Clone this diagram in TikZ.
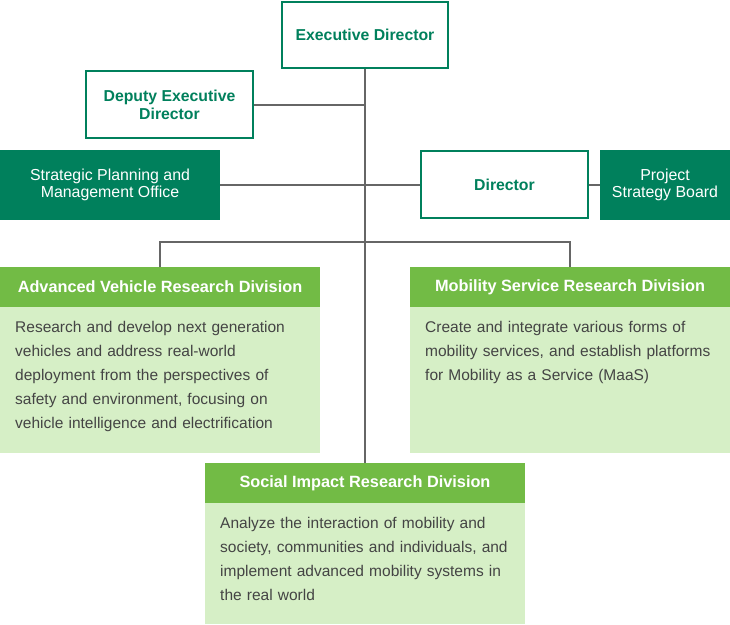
\documentclass[tikz,border=0pt]{standalone}
\usepackage{fontspec}
\setmainfont{Liberation Sans}
\definecolor{dkgreen}{HTML}{00805C}
\definecolor{hdgreen}{HTML}{72BB45}
\definecolor{bdgreen}{HTML}{D6EFC6}
\definecolor{linegray}{HTML}{666666}
\definecolor{txtgray}{HTML}{444444}
\begin{document}
\begin{tikzpicture}[x=1pt,y=-1pt,
  outlinebox/.style={draw=dkgreen,line width=2pt,fill=white,text=dkgreen,inner sep=0pt,align=center,font=\fontsize{15.8}{18}\selectfont\bfseries},
  filledbox/.style={fill=dkgreen,text=white,inner sep=0pt,align=center,font=\fontsize{15.9}{17}\selectfont},
  headbox/.style={fill=hdgreen,text=white,inner sep=0pt,minimum width=320pt,minimum height=40pt,font=\fontsize{16.3}{18}\selectfont\bfseries},
  bodybox/.style={fill=bdgreen,inner sep=0pt,minimum width=320pt,anchor=north west},
  bodytext/.style={text=txtgray,inner sep=0pt,anchor=north west,text width=305pt,align=left,font=\fontsize{15.5}{24}\selectfont},
  conn/.style={draw=linegray,line width=2pt}]
\useasboundingbox (0,0) rectangle (730,624);
% boxes
\node[outlinebox,minimum width=166pt,minimum height=66pt] (exec) at (365,35) {Executive Director};
\node[outlinebox,minimum width=167pt,minimum height=67pt] (dep) at (169.5,104.5) {Deputy Executive\\Director};
\node[filledbox,minimum width=220pt,minimum height=70pt] (spm) at (110,185) {Strategic Planning and\\Management Office};
\node[outlinebox,minimum width=167pt,minimum height=67pt] (dir) at (504.5,184.5) {Director};
\node[filledbox,minimum width=130pt,minimum height=70pt] (psb) at (665,185) {Project\\Strategy Board};
% divisions
\node[headbox] (avh) at (160,287) {Advanced Vehicle Research Division};
\node[bodybox,minimum height=146pt] (avb) at (0,307) {};
\node[bodytext] (avt) at (15,321) {Research and develop next generation\\vehicles and address real-world\\deployment from the perspectives of\\safety and environment, focusing on\\vehicle intelligence and electrification};
\node[headbox] (msh) at (570,287) {Mobility Service Research Division};
\node[bodybox,minimum height=146pt] (msb) at (410,307) {};
\node[bodytext] (mst) at (425,321) {Create and integrate various forms of\\mobility services, and establish platforms\\for Mobility as a Service (MaaS)};
% connectors
\draw[conn] (exec.south) -- (365,463);
\node[headbox] (soh) at (365,483) {Social Impact Research Division};
\node[bodybox,minimum height=121pt] (sob) at (205,503) {};
\node[bodytext] (sot) at (220,517) {Analyze the interaction of mobility and\\society, communities and individuals, and\\implement advanced mobility systems in\\the real world};
\draw[conn] (dep.east) -- (dep.east -| exec.south);
\draw[conn] (spm.east) -- (spm.east -| dir.west);
\draw[conn] (dir.east |- spm.east) -- (spm.east -| psb.west);
\coordinate (branch) at (365,242);
\draw[conn] (avh.north) |- (branch) -| (msh.north);
\end{tikzpicture}
\end{document}
